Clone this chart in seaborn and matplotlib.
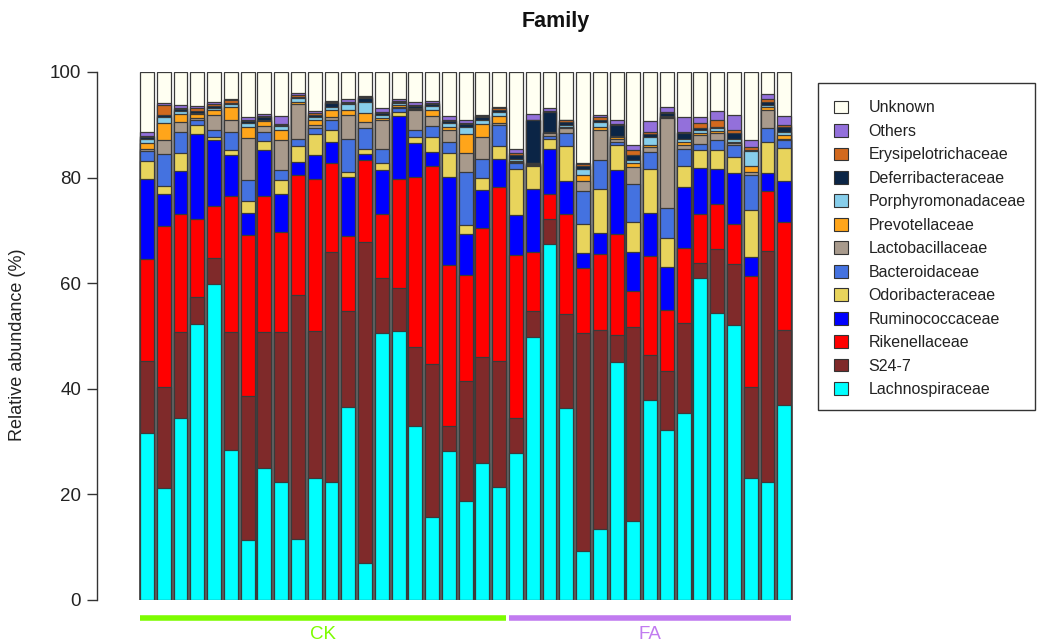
import numpy as np
import pandas as pd
import matplotlib
matplotlib.use("Agg")
import matplotlib.pyplot as plt
from matplotlib.patches import Patch, Rectangle
import seaborn as sns

# ---------------- data ----------------
groups = ["CK"] * 22 + ["FA"] * 17
samples = [f"CK{i+1}" for i in range(22)] + [f"FA{i+1}" for i in range(17)]

# stacking order: bottom -> top
families = ["Lachnospiraceae", "S24-7", "Rikenellaceae", "Ruminococcaceae",
            "Odoribacteraceae", "Bacteroidaceae", "Lactobacillaceae",
            "Prevotellaceae", "Porphyromonadaceae", "Deferribacteraceae",
            "Erysipelotrichaceae", "Others", "Unknown"]

lachnospiraceae = [31.7, 21.3, 34.5, 52.3, 59.8, 28.4, 11.3, 25.0, 22.3, 11.5, 23.2, 22.3, 36.6, 7.0,
                   50.5, 50.9, 33.0, 15.8, 28.3, 18.8, 26.0, 21.4,
                   27.8, 49.8, 67.4, 36.3, 9.3, 13.5, 45.0, 14.9, 37.9, 32.2, 35.4, 61.0, 54.3, 52.0,
                   23.2, 22.4, 36.9]
s24_7 = [13.6, 19.1, 16.2, 5.1, 5.0, 22.3, 27.3, 25.8, 28.5, 46.2, 27.8, 43.6, 18.2, 60.8,
         10.5, 8.1, 14.9, 28.9, 4.7, 22.6, 20.0, 23.8,
         6.7, 5.0, 4.7, 17.8, 41.2, 37.7, 5.1, 36.8, 8.5, 11.1, 17.0, 2.9, 12.2, 11.6,
         17.1, 43.7, 14.3]
rikenellaceae = [19.3, 30.4, 22.4, 14.7, 9.8, 25.8, 30.5, 25.7, 18.9, 22.8, 28.8, 16.9, 14.1, 15.5,
                 12.1, 20.8, 32.2, 37.5, 30.5, 20.1, 24.5, 33.0,
                 30.9, 11.1, 4.7, 19.1, 12.4, 14.3, 19.2, 6.9, 18.8, 11.7, 14.3, 9.3, 8.5, 7.7,
                 21.1, 11.4, 20.4]
ruminococcaceae = [15.2, 6.0, 8.1, 16.1, 12.5, 7.8, 4.2, 8.8, 7.2, 2.5, 4.5, 3.9, 11.2, 1.1,
                   8.3, 11.9, 6.5, 2.7, 16.6, 7.8, 7.2, 5.3,
                   7.5, 12.0, 8.7, 6.2, 2.8, 4.0, 12.2, 7.3, 8.1, 8.1, 11.6, 8.7, 6.7, 9.5,
                   3.5, 3.3, 7.8]
odoribacteraceae = [3.4, 1.6, 3.4, 1.8, 0.6, 0.9, 2.3, 1.7, 2.6, 3.0, 3.9, 2.3, 0.9, 1.1,
                    1.3, 0.8, 1.0, 2.8, 4.5, 1.7, 2.3, 2.5,
                    8.8, 4.3, 1.9, 6.6, 5.6, 8.4, 4.7, 5.7, 8.4, 5.5, 3.9, 3.3, 3.6, 3.1,
                    8.9, 6.0, 6.3]
bacteroidaceae = [1.9, 6.0, 4.1, 1.0, 1.4, 3.5, 4.0, 1.7, 1.9, 1.3, 1.2, 1.9, 6.4, 3.8,
                  2.8, 0.6, 1.4, 2.1, 2.2, 10.1, 3.6, 4.0,
                  1.1, 0.2, 0.5, 2.4, 6.2, 5.4, 0.6, 7.1, 3.2, 5.7, 3.3, 1.1, 1.9, 2.3,
                  6.7, 2.5, 1.4]
lactobacillaceae = [0.3, 2.7, 1.9, 0.2, 2.7, 2.3, 7.9, 1.1, 5.7, 6.6, 0.5, 0.6, 4.4, 1.3,
                    5.4, 0.3, 3.8, 1.9, 2.2, 3.5, 4.0, 0.3,
                    0.2, 0.1, 0.5, 0.9, 1.9, 5.7, 0.6, 3.3, 0.9, 16.9, 0.6, 1.8, 1.3, 0.3,
                    0.6, 3.5, 0.3]
prevotellaceae = [1.2, 3.2, 1.4, 0.8, 1.0, 2.4, 2.1, 0.9, 2.0, 0.5, 1.0, 1.3, 1.0, 1.6,
                  0.3, 0.3, 0.1, 1.1, 0.6, 3.6, 2.5, 1.4,
                  0.2, 0.2, 0.1, 0.3, 1.1, 0.6, 0.2, 0.7, 0.3, 0.3, 0.7, 0.4, 0.4, 0.3,
                  1.1, 0.6, 0.7]
porphyromonadaceae = [0.8, 1.1, 0.6, 0.3, 0.4, 0.5, 0.7, 0.3, 0.7, 0.6, 0.6, 0.6, 1.1, 2.2,
                      0.6, 0.4, 0.2, 0.8, 0.7, 1.4, 0.8, 0.8,
                      0.4, 0.1, 0.2, 0.3, 1.2, 1.0, 0.3, 0.7, 1.6, 0.2, 0.6, 0.6, 0.4, 0.6,
                      2.9, 0.3, 0.6]
deferribacteraceae = [0.3, 0.4, 0.3, 0.4, 0.4, 0.3, 0.4, 0.4, 0.2, 0.3, 0.3, 0.8, 0.3, 0.6,
                      0.5, 0.3, 0.4, 0.3, 0.4, 0.5, 0.5, 0.3,
                      0.7, 8.1, 3.8, 0.7, 0.5, 0.4, 2.1, 0.9, 0.5, 0.5, 1.1, 0.3, 0.3, 1.1,
                      0.2, 0.7, 0.9]
erysipelotrichaceae = [0.2, 1.9, 0.3, 0.4, 0.3, 0.5, 0.3, 0.3, 0.1, 0.3, 0.4, 0.2, 0.2, 0.2,
                       0.2, 0.2, 0.2, 0.2, 0.3, 0.3, 0.3, 0.3,
                       0.3, 0.1, 0.2, 0.3, 0.3, 0.5, 0.1, 1.0, 0.5, 0.3, 0.2, 1.0, 1.3, 0.6,
                       0.5, 0.4, 0.4]
others = [0.8, 0.5, 0.5, 0.5, 0.5, 0.2, 0.4, 0.3, 1.6, 0.5, 0.4, 0.2, 0.4, 0.3,
          0.7, 0.3, 0.7, 0.5, 0.7, 0.6, 0.1, 0.3,
          0.9, 1.0, 0.4, 0.1, 0.2, 0.3, 0.8, 0.8, 2.1, 0.9, 2.7, 1.0, 1.8, 2.7,
          1.3, 1.1, 1.7]
unknown = [11.3, 5.8, 6.3, 6.4, 5.6, 5.1, 8.6, 8.0, 8.3, 3.9, 7.4, 5.4, 5.2, 4.5,
           6.8, 5.1, 5.6, 5.4, 8.3, 9.0, 8.2, 6.6,
           14.5, 8.0, 6.9, 9.0, 17.3, 8.2, 9.1, 13.9, 9.2, 6.6, 8.6, 8.6, 7.3, 8.2,
           12.9, 4.1, 8.3]

colors = ["#00FFFF", "#7F2A2A", "#FF0000", "#0000FF", "#E8D45C", "#4472E0",
          "#A89A8C", "#FFA51A", "#87CEEB", "#0B2546", "#D2691E", "#9370DB", "#FFFFF2"]

group_colors = {"CK": "#7CFC00", "FA": "#C17BF0"}

series = [lachnospiraceae, s24_7, rikenellaceae, ruminococcaceae, odoribacteraceae,
          bacteroidaceae, lactobacillaceae, prevotellaceae, porphyromonadaceae,
          deferribacteraceae, erysipelotrichaceae, others, unknown]

df = pd.DataFrame({fam: vals for fam, vals in zip(families, series)})
df["sample"] = samples
df["group"] = groups
cum = df[families].cumsum(axis=1)

# ---------------- figure ----------------
sns.set_style("white")
plt.rcParams["font.family"] = ["Liberation Sans", "DejaVu Sans"]

W, H = 1038, 642
fig = plt.figure(figsize=(W / 100, H / 100), dpi=100)

x_left_px, x_right_px = 97, 800
y_bot_px, y_top_px = 600, 72
ax = fig.add_axes([x_left_px / W, 1 - y_bot_px / H,
                   (x_right_px - x_left_px) / W, (y_bot_px - y_top_px) / H])

# draw cumulative layers from top to bottom so they overlap as a stack
for fam, col in reversed(list(zip(families, colors))):
    d = pd.DataFrame({"sample": samples, "top": cum[fam].values})
    sns.barplot(data=d, x="sample", y="top", order=samples, color=col,
                saturation=1, width=0.83, errorbar=None, ax=ax,
                edgecolor="#3a3a3a", linewidth=0.9)

pitch = 16.77
center0 = 147.0
ax.set_xlim((x_left_px - center0) / pitch, (x_right_px - center0) / pitch)
ax.set_ylim(0, 100)
ax.set_xlabel("")
ax.set_ylabel("")
ax.set_xticks([])
ax.set_yticks([0, 20, 40, 60, 80, 100])
ax.tick_params(axis="y", direction="out", length=7.5, width=1, color="#333333",
               labelsize=13.5, labelcolor="#222222", pad=4, left=True)
for s in ["top", "right", "bottom"]:
    ax.spines[s].set_visible(False)
ax.spines["left"].set_color("#333333")
ax.spines["left"].set_linewidth(1)
ax.spines["left"].set_bounds(0, 100)

# y label & title
fig.text(18 / W, 1 - 345 / H, "Relative abundance (%)", rotation=90,
         ha="center", va="center", fontsize=13, color="#222222")
fig.text(556 / W, 1 - 22 / H, "Family", ha="center", va="center",
         fontsize=15.5, fontweight="bold", color="#111111")

# group bars
idx = np.arange(len(samples))
for g in ["CK", "FA"]:
    pos = idx[np.array(groups) == g]
    x0 = pos.min() - 0.415
    x1 = pos.max() + 0.415
    ax.plot([x0, x1], [-3.4, -3.4], color=group_colors[g], lw=4,
            solid_capstyle="butt", clip_on=False)
    ax.text((x0 + x1) / 2, -7.45, g, color=group_colors[g], ha="center",
            va="baseline", fontsize=13.5)

# legend (frame drawn separately for asymmetric padding)
handles = [Patch(facecolor=c, edgecolor="#333333", linewidth=0.8, label=f)
           for f, c in zip(families[::-1], colors[::-1])]
leg = fig.legend(handles=handles, loc="upper left",
                 bbox_to_anchor=(834 / W, 1 - 100.5 / H), frameon=False,
                 fontsize=11.5,
                 handlelength=0.85, handleheight=0.85, handletextpad=1.3,
                 labelspacing=0.53, borderpad=0.0, borderaxespad=0)
for t in leg.get_texts():
    t.set_color("#222222")
fig.add_artist(Rectangle((818 / W, 1 - 410 / H), (1035 - 818) / W, (410 - 83) / H,
                         transform=fig.transFigure, fill=False,
                         edgecolor="#333333", linewidth=1.0))

fig.savefig("out.png", dpi=100)
